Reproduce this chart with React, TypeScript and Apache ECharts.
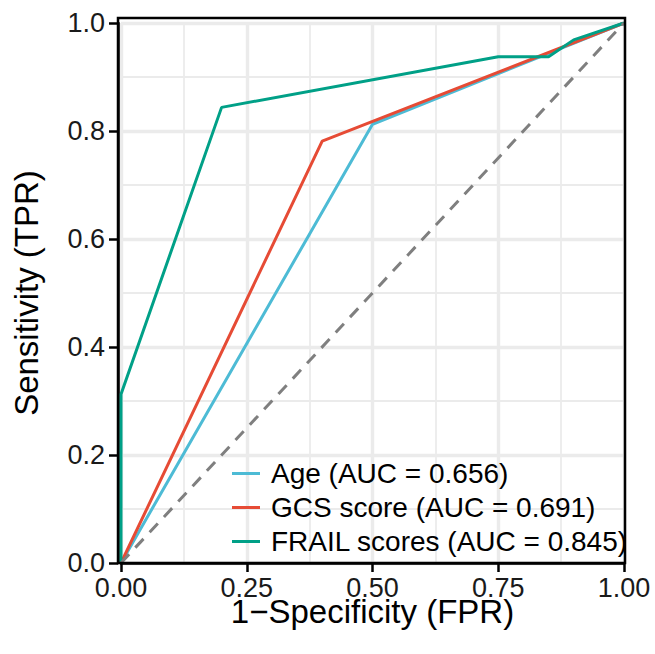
import React, { useEffect, useRef } from "react";
import * as echarts from "echarts";

const seriesNames = ["Age (AUC = 0.656)", "GCS score (AUC = 0.691)", "FRAIL scores (AUC = 0.845)"];
const seriesColors = ["#4DBBD5", "#E64B35", "#00A087"];
const ageFpr = [0, 0.5, 1];
const ageTpr = [0, 0.8125, 1];
const gcsFpr = [0, 0.4, 1];
const gcsTpr = [0, 0.78125, 1];
const frailFpr = [0, 0, 0.2, 0.75, 0.85, 0.9, 1];
const frailTpr = [0, 0.3125, 0.84375, 0.9375, 0.9375, 0.96875, 1];
const diagonal = [0, 1];
const xTitle = "1\u2212Specificity (FPR)";
const yTitle = "Sensitivity (TPR)";

const FONT = "'Liberation Sans', Arial, Helvetica, sans-serif";

export default function App() {
  const ref = useRef<HTMLDivElement>(null);
  useEffect(() => {
    document.body.style.margin = "0";
    if (!ref.current) return;
    const chart = echarts.init(ref.current, undefined, { renderer: "svg" });
    const zip = (xs: number[], ys: number[]) => xs.map((x, i) => [x, ys[i]]);
    const curves = [zip(ageFpr, ageTpr), zip(gcsFpr, gcsTpr), zip(frailFpr, frailTpr)];
    const axisCommon = {
      type: "value" as const,
      min: 0,
      max: 1,
      axisLine: { show: true, onZero: false, lineStyle: { color: "#000", width: 2.5 } },
      axisTick: { show: true, length: 9, lineStyle: { color: "#000", width: 2.5 } },
      splitLine: { show: true, lineStyle: { color: "#EBEBEB", width: 3.4 } },
      minorTick: { show: false, splitNumber: 2 },
      minorSplitLine: { show: true, lineStyle: { color: "#EBEBEB", width: 1.8 } },
      nameLocation: "middle" as const,
      nameTextStyle: { fontSize: 33, color: "#000", fontFamily: FONT },
    };
    chart.setOption({
      animation: false,
      backgroundColor: "#fff",
      grid: { left: 121, right: 31, top: 23, bottom: 91, containLabel: false },
      xAxis: {
        ...axisCommon,
        interval: 0.25,
        name: xTitle,
        nameGap: 36,
        nameMoveOverlap: false,
        nameTextStyle: { fontSize: 33, color: "#000", fontFamily: FONT, lineHeight: 24 },
        axisLabel: {
          fontSize: 27,
          lineHeight: 20,
          color: "#1a1a1a",
          fontFamily: FONT,
          margin: 15,
          formatter: (v: number) => v.toFixed(2),
        },
      },
      yAxis: {
        ...axisCommon,
        interval: 0.2,
        offset: 3,
        name: yTitle,
        nameGap: 75,
        axisLabel: {
          fontSize: 27,
          color: "#1a1a1a",
          fontFamily: FONT,
          margin: 13,
          formatter: (v: number) => v.toFixed(1),
        },
      },
      legend: {
        data: seriesNames,
        orient: "vertical",
        left: 227,
        top: 451,
        icon: "rect",
        itemWidth: 28,
        itemHeight: 3,
        itemGap: -1,
        textStyle: {
          fontSize: 28,
          color: "#000",
          fontFamily: FONT,
          lineHeight: 35,
          padding: [0, 0, 0, 6],
        },
      },
      series: [
        ...seriesNames.map((name, i) => ({
          name,
          type: "line",
          data: curves[i],
          showSymbol: false,
          symbol: "none",
          lineStyle: { color: seriesColors[i], width: 3 },
          itemStyle: { color: seriesColors[i] },
          z: 3 + i,
        })),
        {
          name: "diag",
          type: "line",
          data: [
            [diagonal[0], diagonal[0]],
            [diagonal[1], diagonal[1]],
          ],
          showSymbol: false,
          symbol: "none",
          lineStyle: { color: "#7F7F7F", width: 3, type: [12, 9] },
          z: 7,
        },
      ],
      graphic: [
        {
          type: "rect",
          shape: { x: 118, y: 18, width: 507, height: 545 },
          style: { fill: "none", stroke: "#000", lineWidth: 2.5 },
          z: 100,
          silent: true,
        },
      ],
    });
    return () => chart.dispose();
  }, []);
  return <div ref={ref} style={{ width: 655, height: 654 }} />;
}
